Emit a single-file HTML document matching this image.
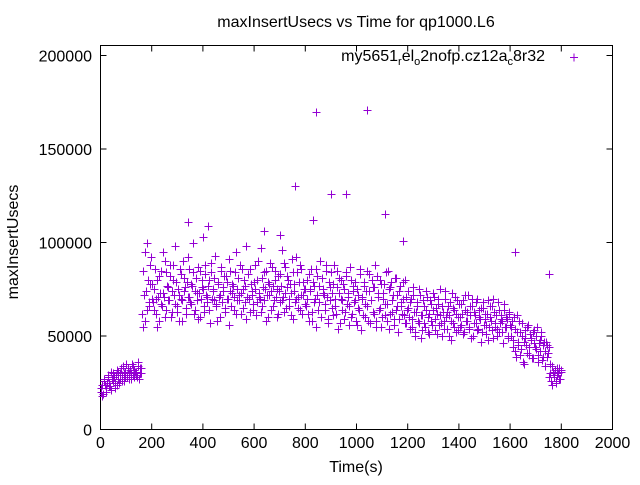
<!DOCTYPE html>
<html><head><meta charset="utf-8"><style>
body{margin:0;background:#fff;}
svg text{font-family:"Liberation Sans",sans-serif;font-size:16px;fill:#000;}
</style></head><body>
<svg id="chart" width="640" height="480" xmlns="http://www.w3.org/2000/svg">
<text x="356" y="27" text-anchor="middle">maxInsertUsecs vs Time for qp1000.L6</text>
<text transform="translate(18,242) rotate(-90)" text-anchor="middle">maxInsertUsecs</text>
<text x="356" y="472" text-anchor="middle">Time(s)</text>
<rect x="100.5" y="45.5" width="512" height="384" fill="none" stroke="#000" stroke-width="1"/>
<g id="axes"></g>
<g id="points"></g>
<text x="545" y="61" text-anchor="end">my5651<tspan font-size="11" dy="4">r</tspan><tspan dy="-4">el</tspan><tspan font-size="11" dy="4">o</tspan><tspan dy="-4">2nofp.cz12a</tspan><tspan font-size="11" dy="4">c</tspan><tspan dy="-4">8r32</tspan></text>
<path d="M570 57.5h8M574 53.5v8" stroke="#9400d3" stroke-width="1"/>
</svg>
<script>
const xTicks=[0,200,400,600,800,1000,1200,1400,1600,1800,2000];
const yTicks=[0,50000,100000,150000,200000];
const sampleSecs=5;
const values=[20,24,19,26,22,25,28,23,21,27,30,25,29,24,31,27,33,26,30,28,35,29,27,32,30,34,28,31,29,36,27,33,30,
55,72,95,64,80,68,88,70,
68,75,62,80,71,58,85,66,73,90,64,77,69,82,60,74,88,67,79,63,
72,86,70,58,81,76,65,92,71,68,78,84,62,74,69,87,73,60,80,75,
66,83,71,77,64,89,70,74,81,67,58,79,72,85,68,76,63,82,70,91,
74,66,78,71,84,62,75,69,88,73,65,80,77,59,83,70,86,72,64,79,
75,68,90,71,63,81,76,69,85,72,60,78,74,87,66,80,71,75,62,83,
77,69,89,73,65,82,70,78,61,84,74,68,92,71,79,64,86,72,75,67,
70,62,83,75,58,79,68,86,72,64,77,60,81,73,67,88,71,59,76,84,
65,78,70,62,85,73,57,80,69,75,63,82,71,66,87,60,74,68,79,56,
72,64,83,70,61,77,67,85,58,74,69,80,63,76,55,82,71,65,78,60,
73,67,84,58,75,62,79,69,56,81,64,72,59,77,66,70,61,80,57,74,
60,68,55,72,63,50,66,58,75,61,53,69,57,64,71,52,62,67,56,73,
59,65,51,70,61,57,66,54,74,60,63,50,68,58,65,55,71,62,53,67,
60,56,69,52,64,58,72,55,61,66,50,63,57,70,54,60,65,52,68,59,
56,62,48,66,58,53,70,55,61,50,64,57,59,52,67,55,60,49,63,56,
55,48,60,42,52,45,58,40,50,36,47,53,41,56,44,49,38,52,46,43,55,40,48,50,37,45,42,47,39,44,
30,26,34,28,32,25,29,33,27,31];
const valuesB=[22,18,27,24,20,29,25,23,31,26,28,22,32,27,25,30,29,34,26,31,28,33,30,27,35,29,32,31,28,34,30,33,
62,85,58,74,100,66,78,92,
78,64,86,70,55,82,73,67,95,71,60,84,76,69,88,63,80,72,98,66,
75,58,83,69,90,74,62,79,71,86,67,77,100,64,81,73,59,85,70,76,
63,88,72,68,80,57,84,75,69,93,66,78,71,60,87,74,82,65,79,70,
56,85,73,77,64,95,69,81,72,62,86,75,68,98,71,83,63,78,74,67,
88,61,80,73,70,97,66,84,75,58,79,72,89,64,77,69,85,60,82,74,
68,96,71,63,87,76,80,66,73,91,59,78,70,84,65,88,72,62,79,75,
66,80,58,74,86,63,77,70,55,82,68,90,60,75,72,64,85,57,79,69,
73,61,88,66,76,54,81,70,64,78,59,84,67,73,56,80,62,77,69,58,
75,65,86,53,71,79,60,74,66,83,57,69,76,62,88,58,73,64,80,55,
70,78,61,67,85,54,76,63,72,59,81,66,52,74,68,62,79,57,71,64,
65,54,70,59,76,52,63,68,57,72,49,61,66,55,74,60,51,69,58,64,
71,53,62,67,56,75,50,63,58,70,54,66,61,48,73,57,64,52,69,60,
55,67,62,51,72,58,63,54,66,49,70,57,61,68,53,64,59,47,65,56,
62,51,69,55,60,66,49,63,57,54,68,52,61,58,46,64,55,59,50,62,
50,58,44,54,39,61,47,52,43,57,35,49,45,55,40,51,48,38,53,44,50,36,46,42,52,39,47,34,45,41,
28,35,24,31,29,26,33,30,27,32];
const outlierTimes=[340,420,760,830,840,900,960,1040,1110,1620,1750,180,400,640,700,1180];
const outlierValues=[111,109,130,112,170,126,126,171,115,95,83,100,103,106,104,101];
const X=t=>100.5+t*512/2000, Y=v=>429.5-v*374/200000;
const NS="http://www.w3.org/2000/svg";
const ax=document.getElementById('axes'), pts=document.getElementById('points');
xTicks.forEach(t=>{const x=X(t);
 const p=document.createElementNS(NS,'path');p.setAttribute('d',`M${x} 429.5v-6M${x} 45.5v6`);p.setAttribute('stroke','#000');
 
 ax.appendChild(p);
 const tx=document.createElementNS(NS,'text');tx.setAttribute('x',x);tx.setAttribute('y',448);tx.setAttribute('text-anchor','middle');tx.textContent=t;
 
 ax.appendChild(tx);});
yTicks.forEach(v=>{const y=Y(v);
 const p=document.createElementNS(NS,'path');p.setAttribute('d',`M100.5 ${y}h6M612.5 ${y}h-6`);p.setAttribute('stroke','#000');
 
 ax.appendChild(p);
 const tx=document.createElementNS(NS,'text');tx.setAttribute('x',92);tx.setAttribute('y',y+6);tx.setAttribute('text-anchor','end');tx.textContent=v;
 
 ax.appendChild(tx);});
function mark(t,v){const x=Math.round(X(t))+0.5,y=Math.round(Y(v*1000))+0.5;
 const p=document.createElementNS(NS,'path');p.setAttribute('d',`M${x-4} ${y}h8M${x} ${y-4}v8`);p.setAttribute('stroke','#9400d3');
 
 pts.appendChild(p);}
values.forEach((v,i)=>mark(i*sampleSecs,v));
valuesB.forEach((v,i)=>mark(i*sampleSecs+sampleSecs/2,v));
outlierTimes.forEach((t,i)=>mark(t,outlierValues[i]));
</script>
</body></html>
